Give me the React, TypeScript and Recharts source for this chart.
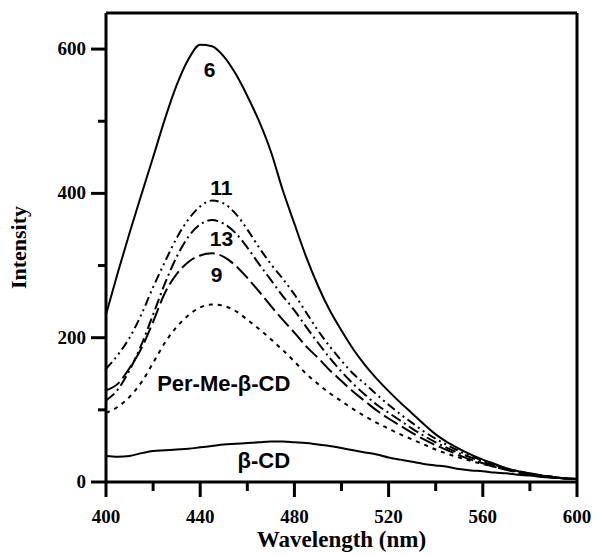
import React from 'react';
import { LineChart, Line, XAxis, YAxis, ReferenceLine, ReferenceDot, Label } from 'recharts';

// wavelength (nm), 5 nm steps
const wavelength = [
  400, 405, 410, 415, 420, 425, 430, 435, 440, 445, 450, 455, 460, 465, 470, 475, 480, 485, 490, 495,
  500, 505, 510, 515, 520, 525, 530, 535, 540, 545, 550, 555, 560, 565, 570, 575, 580, 585, 590, 595, 600,
];

const curve6 = [
  232, 290, 345, 398, 450, 503, 550, 586, 606, 604, 590, 566, 535, 500, 458, 405, 358, 312, 272, 238,
  210, 184, 162, 143, 126, 110, 95, 80, 66, 55, 46, 38, 31, 25, 19, 15, 12, 9, 7, 5, 4,
];
const curve11 = [
  157, 176, 200, 232, 270, 305, 338, 364, 382, 390, 386, 372, 350, 325, 302, 282, 260, 235, 210, 188,
  168, 150, 136, 121, 107, 94, 82, 70, 60, 51, 43, 36, 30, 24, 19, 15, 12, 9, 7, 5, 4,
];
const curve13 = [
  113, 128, 155, 190, 232, 275, 312, 340, 357, 363, 358, 345, 325, 302, 280, 258, 238, 215, 193, 172,
  153, 136, 121, 107, 96, 85, 74, 64, 55, 47, 40, 34, 28, 23, 18, 14, 11, 9, 7, 5, 4,
];
const curve9 = [
  127, 136, 158, 185, 222, 262, 288, 305, 314, 317, 312, 300, 283, 264, 244, 225, 207, 188, 172, 155,
  140, 125, 112, 99, 88, 78, 68, 59, 51, 44, 37, 31, 26, 21, 17, 13, 10, 8, 6, 5, 4,
];
const perMeBCD = [
  96, 104, 118, 138, 165, 193, 215, 231, 242, 246, 244, 237, 225, 212, 198, 183, 167, 150, 136, 123,
  112, 101, 91, 82, 74, 66, 59, 52, 45, 39, 34, 29, 25, 21, 17, 14, 11, 8, 6, 5, 4,
];
const bCD = [
  36, 35, 36, 40, 43, 44, 45, 46, 48, 50, 52, 53, 54, 55, 56, 56, 55, 54, 52, 50,
  47, 44, 41, 38, 34, 31, 28, 25, 23, 21, 18, 16, 15, 13, 12, 10, 9, 7, 6, 5, 4,
];

const xTicks = [400, 420, 440, 460, 480, 500, 520, 540, 560, 580, 600];
const xMajor = [400, 440, 480, 520, 560, 600];
const yTicks = [0, 100, 200, 300, 400, 500, 600];
const yMajor = [0, 200, 400, 600];

const data = wavelength.map((w, i) => ({
  w,
  c6: curve6[i],
  c11: curve11[i],
  c13: curve13[i],
  c9: curve9[i],
  perMe: perMeBCD[i],
  bcd: bCD[i],
}));

const serif = '"Liberation Serif", "Times New Roman", serif';
const sans = '"Liberation Sans", Arial, sans-serif';

const XTick = (props: any) => {
  const { x, y, payload } = props;
  const major = xMajor.includes(payload.value);
  return (
    <g>
      <line x1={x} y1={y} x2={x} y2={y + (major ? 15 : 9)} stroke="#000" strokeWidth={3} />
      {major && (
        <text x={x} y={y + 41} textAnchor="middle" fontFamily={serif} fontWeight="bold" fontSize={19} fill="#000">
          {payload.value}
        </text>
      )}
    </g>
  );
};

const YTick = (props: any) => {
  const { x, y, payload } = props;
  const major = yMajor.includes(payload.value);
  return (
    <g>
      <line x1={x - (major ? 15 : 8)} y1={y} x2={x} y2={y} stroke="#000" strokeWidth={3} />
      {major && (
        <text x={x - 20} y={y + 6} textAnchor="end" fontFamily={serif} fontWeight="bold" fontSize={19} fill="#000">
          {payload.value}
        </text>
      )}
    </g>
  );
};

const curveLabel = (value: string, size = 21) => ({
  value,
  position: 'center' as const,
  fill: '#000',
  fontSize: size,
  fontWeight: 'bold',
  fontFamily: sans,
});

export default function App() {
  return (
    <div style={{ position: 'absolute', left: 0, top: 0, background: '#fff' }}>
      <LineChart width={596} height={555} data={data} margin={{ top: 13, right: 19, bottom: 0, left: 0 }}>
        <XAxis
          dataKey="w"
          type="number"
          domain={[400, 600]}
          ticks={xTicks}
          interval={0}
          height={73}
          tickSize={0}
          tickMargin={0}
          tickLine={false}
          tick={<XTick />}
          axisLine={{ stroke: '#000', strokeWidth: 3 }}
        >
          <Label
            value="Wavelength (nm)"
            position="insideBottom"
            offset={8}
            fill="#000"
            fontSize={23}
            fontWeight="bold"
            fontFamily={serif}
          />
        </XAxis>
        <YAxis
          type="number"
          domain={[0, 650]}
          ticks={yTicks}
          interval={0}
          width={106}
          tickSize={0}
          tickMargin={0}
          tickLine={false}
          tick={<YTick />}
          axisLine={{ stroke: '#000', strokeWidth: 3 }}
        >
          <Label
            content={(props: any) => {
              const vb = props.viewBox;
              const cx = 18;
              const cy = vb.y + vb.height / 2;
              return (
                <text
                  x={cx}
                  y={cy}
                  transform={`rotate(-90 ${cx} ${cy})`}
                  textAnchor="middle"
                  dominantBaseline="central"
                  fontFamily={serif}
                  fontWeight="bold"
                  fontSize={22}
                  fill="#000"
                >
                  Intensity
                </text>
              );
            }}
          />
        </YAxis>
        <ReferenceLine y={650} stroke="#000" strokeWidth={3} />
        <ReferenceLine x={600} stroke="#000" strokeWidth={3} />

        <Line dataKey="c6" type="monotone" stroke="#000" strokeWidth={2} dot={false} isAnimationActive={false} />
        <Line dataKey="c11" type="monotone" stroke="#000" strokeWidth={2} strokeDasharray="9 4 2 4 2 4" dot={false} isAnimationActive={false} />
        <Line dataKey="c13" type="monotone" stroke="#000" strokeWidth={2} strokeDasharray="11 4 2 4" dot={false} isAnimationActive={false} />
        <Line dataKey="c9" type="monotone" stroke="#000" strokeWidth={2} strokeDasharray="16 5" dot={false} isAnimationActive={false} />
        <Line dataKey="perMe" type="monotone" stroke="#000" strokeWidth={2} strokeDasharray="4 5" dot={false} isAnimationActive={false} />
        <Line dataKey="bcd" type="monotone" stroke="#000" strokeWidth={2} dot={false} isAnimationActive={false} />

        <ReferenceDot x={444} y={571} r={0} stroke="none" fill="none" label={curveLabel('6')} />
        <ReferenceDot x={449} y={408} r={0} stroke="none" fill="none" label={curveLabel('11')} />
        <ReferenceDot x={449} y={338} r={0} stroke="none" fill="none" label={curveLabel('13')} />
        <ReferenceDot x={447} y={287} r={0} stroke="none" fill="none" label={curveLabel('9')} />
        <ReferenceDot x={450} y={137} r={0} stroke="none" fill="none" label={curveLabel('Per-Me-β-CD', 22)} />
        <ReferenceDot x={467} y={30} r={0} stroke="none" fill="none" label={curveLabel('β-CD', 22)} />
      </LineChart>
    </div>
  );
}
